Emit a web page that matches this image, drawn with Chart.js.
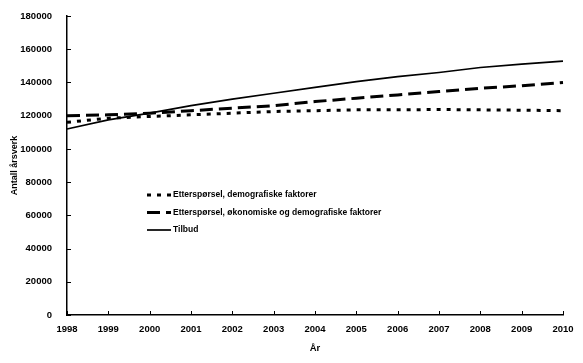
<!DOCTYPE html>
<html>
<head>
<meta charset="utf-8">
<script src="https://cdn.jsdelivr.net/npm/chart.js@4"></script>
<style>
  html, body { margin: 0; padding: 0; background: #fff; }
  #wrap { width: 583px; height: 363px; }
</style>
</head>
<body>
<div id="wrap"><canvas id="chart" width="583" height="363"></canvas></div>
<script>
const years = ['1998', '1999', '2000', '2001', '2002', '2003', '2004', '2005', '2006', '2007', '2008', '2009', '2010'];
const demografiske = [116000, 118500, 119500, 120500, 121500, 122500, 123000, 123500, 123500, 123700, 123500, 123300, 123000];
const okonomiske = [120000, 120500, 121500, 123000, 124500, 126000, 128500, 130500, 132500, 134500, 136500, 138000, 140000];
const tilbud = [112000, 117500, 121500, 126000, 130000, 133500, 137000, 140500, 143500, 146000, 149000, 151000, 152800];
const seriesNames = ['Etterspørsel, demografiske faktorer', 'Etterspørsel, økonomiske og demografiske faktorer', 'Tilbud'];

const FONT = 'Liberation Sans, Arial, sans-serif';

// ticks pointing into the plot, like the original
const innerTicks = {
    id: 'innerTicks',
    afterDraw(chart) {
        const ctx = chart.ctx;
        const x = chart.scales.x, y = chart.scales.y;
        ctx.save();
        ctx.strokeStyle = '#000';
        ctx.lineWidth = 1;
        ctx.beginPath();
        x.ticks.forEach((t, i) => {
            const px = Math.round(x.getPixelForTick(i)) + 0.5;
            ctx.moveTo(px, y.bottom);
            ctx.lineTo(px, y.bottom - 4);
        });
        y.ticks.forEach((t, i) => {
            const py = Math.round(y.getPixelForTick(i)) + 0.5;
            ctx.moveTo(x.left, py);
            ctx.lineTo(x.left + 4, py);
        });
        ctx.stroke();
        ctx.restore();
    }
};

// legend drawn inside the plot area
const innerLegend = {
    id: 'innerLegend',
    afterDraw(chart) {
        const ctx = chart.ctx;
        ctx.save();
        ctx.font = 'bold 8.5px ' + FONT;
        ctx.textBaseline = 'middle';
        ctx.fillStyle = '#000';
        chart.data.datasets.forEach((ds, i) => {
            const yy = 195 + i * 17.5;
            ctx.beginPath();
            ctx.strokeStyle = ds.borderColor;
            ctx.lineWidth = ds.borderWidth;
            ctx.setLineDash(ds.borderDash || []);
            ctx.moveTo(147, yy);
            ctx.lineTo(171, yy);
            ctx.stroke();
            ctx.setLineDash([]);
            ctx.fillText(ds.label, 173, yy);
        });
        ctx.restore();
    }
};

new Chart(document.getElementById('chart'), {
    type: 'line',
    data: {
        labels: years,
        datasets: [
            { label: seriesNames[0], data: demografiske, borderColor: '#000', borderWidth: 3, borderDash: [4, 6], pointRadius: 0, fill: false },
            { label: seriesNames[1], data: okonomiske, borderColor: '#000', borderWidth: 3, borderDash: [13, 6], pointRadius: 0, fill: false },
            { label: seriesNames[2], data: tilbud, borderColor: '#000', borderWidth: 1.7, pointRadius: 0, fill: false }
        ]
    },
    options: {
        responsive: false,
        animation: false,
        layout: { padding: { top: 16, right: 20, left: 9, bottom: 5 } },
        plugins: {
            legend: { display: false },
            tooltip: { enabled: false }
        },
        scales: {
            x: {
                offset: false,
                grid: { display: false },
                border: { color: '#000', width: 1.5 },
                ticks: { color: '#000', font: { family: FONT, size: 9.5, weight: 'bold' }, maxRotation: 0, padding: 1 },
                title: { display: true, text: 'År', color: '#000', font: { family: FONT, size: 9.5, weight: 'bold' }, padding: { top: 4 } },
                afterFit(s) { s.height = 43; }
            },
            y: {
                min: 0,
                max: 180000,
                grid: { display: false },
                border: { color: '#000', width: 1.5 },
                ticks: { stepSize: 20000, color: '#000', font: { family: FONT, size: 9.5, weight: 'bold' }, padding: 7,
                    callback: v => String(v) },
                title: { display: true, text: 'Antall årsverk', color: '#000', font: { family: FONT, size: 9, weight: 'bold' }, padding: 0 },
                afterFit(s) { s.width = 58; }
            }
        }
    },
    plugins: [innerTicks, innerLegend]
});
</script>
</body>
</html>
